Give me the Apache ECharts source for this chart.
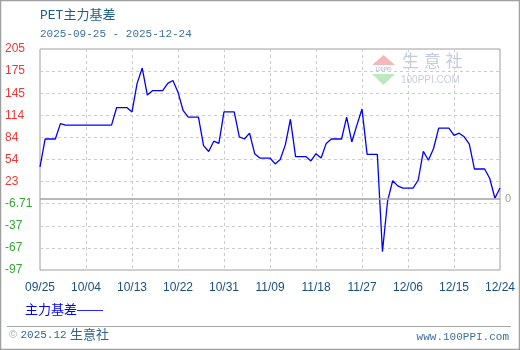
<!DOCTYPE html>
<html><head><meta charset="utf-8">
<script src="https://cdn.jsdelivr.net/npm/echarts@6/dist/echarts.min.js"></script>
<style>html,body{margin:0;padding:0;background:#fff}#c{width:520px;height:350px}</style>
</head><body><div id="c"></div>
<script>
const categories = [
 '09/25','09/26','09/27','09/28','09/29','09/30',
 '10/01','10/02','10/03','10/04','10/05','10/06','10/07','10/08','10/09','10/10',
 '10/11','10/12','10/13','10/14','10/15','10/16','10/17','10/18','10/19','10/20',
 '10/21','10/22','10/23','10/24','10/25','10/26','10/27','10/28','10/29','10/30','10/31',
 '11/01','11/02','11/03','11/04','11/05','11/06','11/07','11/08','11/09','11/10',
 '11/11','11/12','11/13','11/14','11/15','11/16','11/17','11/18','11/19','11/20',
 '11/21','11/22','11/23','11/24','11/25','11/26','11/27','11/28','11/29','11/30',
 '12/01','12/02','12/03','12/04','12/05','12/06','12/07','12/08','12/09','12/10',
 '12/11','12/12','12/13','12/14','12/15','12/16','12/17','12/18','12/19','12/20',
 '12/21','12/22','12/23','12/24'
];
const basisValues = [
 44, 82, 82, 82, 103, 101,
 101, 101, 101, 101, 101, 101, 101, 101, 101, 125,
 125, 125, 119, 158, 179, 142, 148, 148, 148, 158,
 162, 146, 121, 112, 112, 112, 73, 65, 79, 76, 119,
 119, 119, 85, 82, 90, 62, 56, 56, 56, 48,
 54, 74, 109, 58, 58, 58, 52, 62, 56, 76,
 82, 82, 82, 112, 78, 101, 123, 61, 61, 61,
 -72, -3, 25, 18, 15, 15, 15, 26, 65, 53,
 69, 97, 97, 97, 87, 90, 85, 75, 41, 41,
 41, 28, 1, 15
];
const yTickLabels = ['-97','-67','-37','-6.71','23','54','84','114','145','175','205'];
const yMin = -97;
const yMax = 205;
const seriesName = '主力基差';
const titleText = 'PET主力基差';
const subTitleText = '2025-09-25 - 2025-12-24';

const MONO = '"Liberation Mono", "Noto Sans CJK SC", monospace';
const SANS = '"Liberation Sans", "Noto Sans CJK SC", sans-serif';

const chart = echarts.init(document.getElementById('c'), null, {renderer: 'canvas'});
chart.setOption({
  animation: false,
  backgroundColor: '#fff',
  title: {
    text: titleText, subtext: subTitleText,
    left: 40, top: 9, padding: 0, itemGap: 7,
    textStyle: {fontFamily: MONO, fontSize: 13, fontWeight: 'normal', color: '#1d5e8e'},
    subtextStyle: {fontFamily: MONO, fontSize: 11, color: '#3d6f9f'}
  },
  legend: {
    left: 20, top: 304, padding: 0, itemWidth: 0, itemHeight: 0, itemGap: 0,
    icon: 'none', data: [seriesName],
    formatter: n => n + '——',
    textStyle: {fontFamily: SANS, fontSize: 13, color: '#0000ff', padding: 0}
  },
  grid: {left: 40, top: 49, right: 20, bottom: 80, show: true, borderColor: '#a0a0a0', borderWidth: 1, containLabel: false},
  xAxis: {
    type: 'category', data: categories, boundaryGap: false,
    axisLine: {show: false}, axisTick: {show: false},
    axisLabel: {interval: 8, margin: 12, fontFamily: SANS, fontSize: 12, color: '#1b4f7e', showMinLabel: true, showMaxLabel: true},
    splitLine: {show: true, interval: 8, lineStyle: {color: '#cccccc', type: [3, 3], width: 1}}
  },
  yAxis: [{
    type: 'value', min: 0, max: yTickLabels.length - 1, interval: 1,
    axisLine: {show: false}, axisTick: {show: false},
    axisLabel: {
      align: 'left', margin: 35, fontFamily: SANS, fontSize: 12,
      formatter: v => yTickLabels[v],
      color: v => (yTickLabels[v].charAt(0) === '-' ? '#33a833' : '#f53535')
    },
    splitLine: {show: true, lineStyle: {color: '#cccccc', type: [3, 3], width: 1}}
  }, {
    type: 'value', min: yMin, max: yMax, show: false,
    splitLine: {show: false}
  }],
  series: [{
    name: seriesName, type: 'line', yAxisIndex: 1, data: basisValues,
    showSymbol: false, symbol: 'none', smooth: false,
    lineStyle: {color: '#0000ff', width: 1.3},
    itemStyle: {color: '#0000ff'},
    markLine: {
      silent: true, symbol: 'none', animation: false,
      lineStyle: {color: '#a0a0a0', type: 'solid', width: 1.5},
      label: {show: true, position: 'end', formatter: '0', color: '#a0a0a0', fontFamily: SANS, fontSize: 11, distance: 5},
      data: [{yAxis: 0}]
    },
    z: 3
  }],
  graphic: [
    {type: 'rect', shape: {x: 0.5, y: 0.5, width: 519, height: 349}, style: {fill: 'none', stroke: '#a0a0a0', lineWidth: 1.5}, silent: true},
    {type: 'line', shape: {x1: 7, y1: 326.5, x2: 511, y2: 326.5}, style: {stroke: '#a8a8a8', lineWidth: 1}, silent: true},
    {type: 'polygon', shape: {points: [[383.5, 55], [372, 65], [395, 65]]}, style: {fill: '#f5b8b8'}, silent: true, z: 0},
    {type: 'polygon', shape: {points: [[372, 74], [395, 74], [383.5, 85]]}, style: {fill: '#bde8bd'}, silent: true, z: 0},
    {type: 'text', x: 383.5, y: 69.5, style: {text: '100PPI', fontFamily: SANS, fontSize: 5, fill: '#aab4c8', align: 'center', verticalAlign: 'middle'}, silent: true, z: 0},
    {type: 'text', x: 402, y: 62, style: {text: '生 意 社', fontFamily: SANS, fontSize: 17, fill: '#c3cbe0', align: 'left', verticalAlign: 'middle'}, silent: true, z: 0},
    {type: 'text', x: 401, y: 80, style: {text: '100PPI.COM', fontFamily: SANS, fontSize: 10, fill: '#c8cfdc', align: 'left', verticalAlign: 'middle'}, silent: true, z: 0},
    {type: 'text', x: 9, y: 335, style: {
      text: '{a|©} {b|2025.12} {c|生意社}', align: 'left', verticalAlign: 'middle',
      rich: {
        a: {fontFamily: SANS, fontSize: 11, fill: '#9fb3c8'},
        b: {fontFamily: MONO, fontSize: 11, fill: '#2f6494'},
        c: {fontFamily: SANS, fontSize: 13, fill: '#2f6494'}
      }}, silent: true},
    {type: 'text', x: 509, y: 337, style: {text: 'www.100PPI.com', fontFamily: MONO, fontSize: 11, fill: '#3d6f9f', align: 'right', verticalAlign: 'middle'}, silent: true}
  ]
});
</script>
</body></html>
